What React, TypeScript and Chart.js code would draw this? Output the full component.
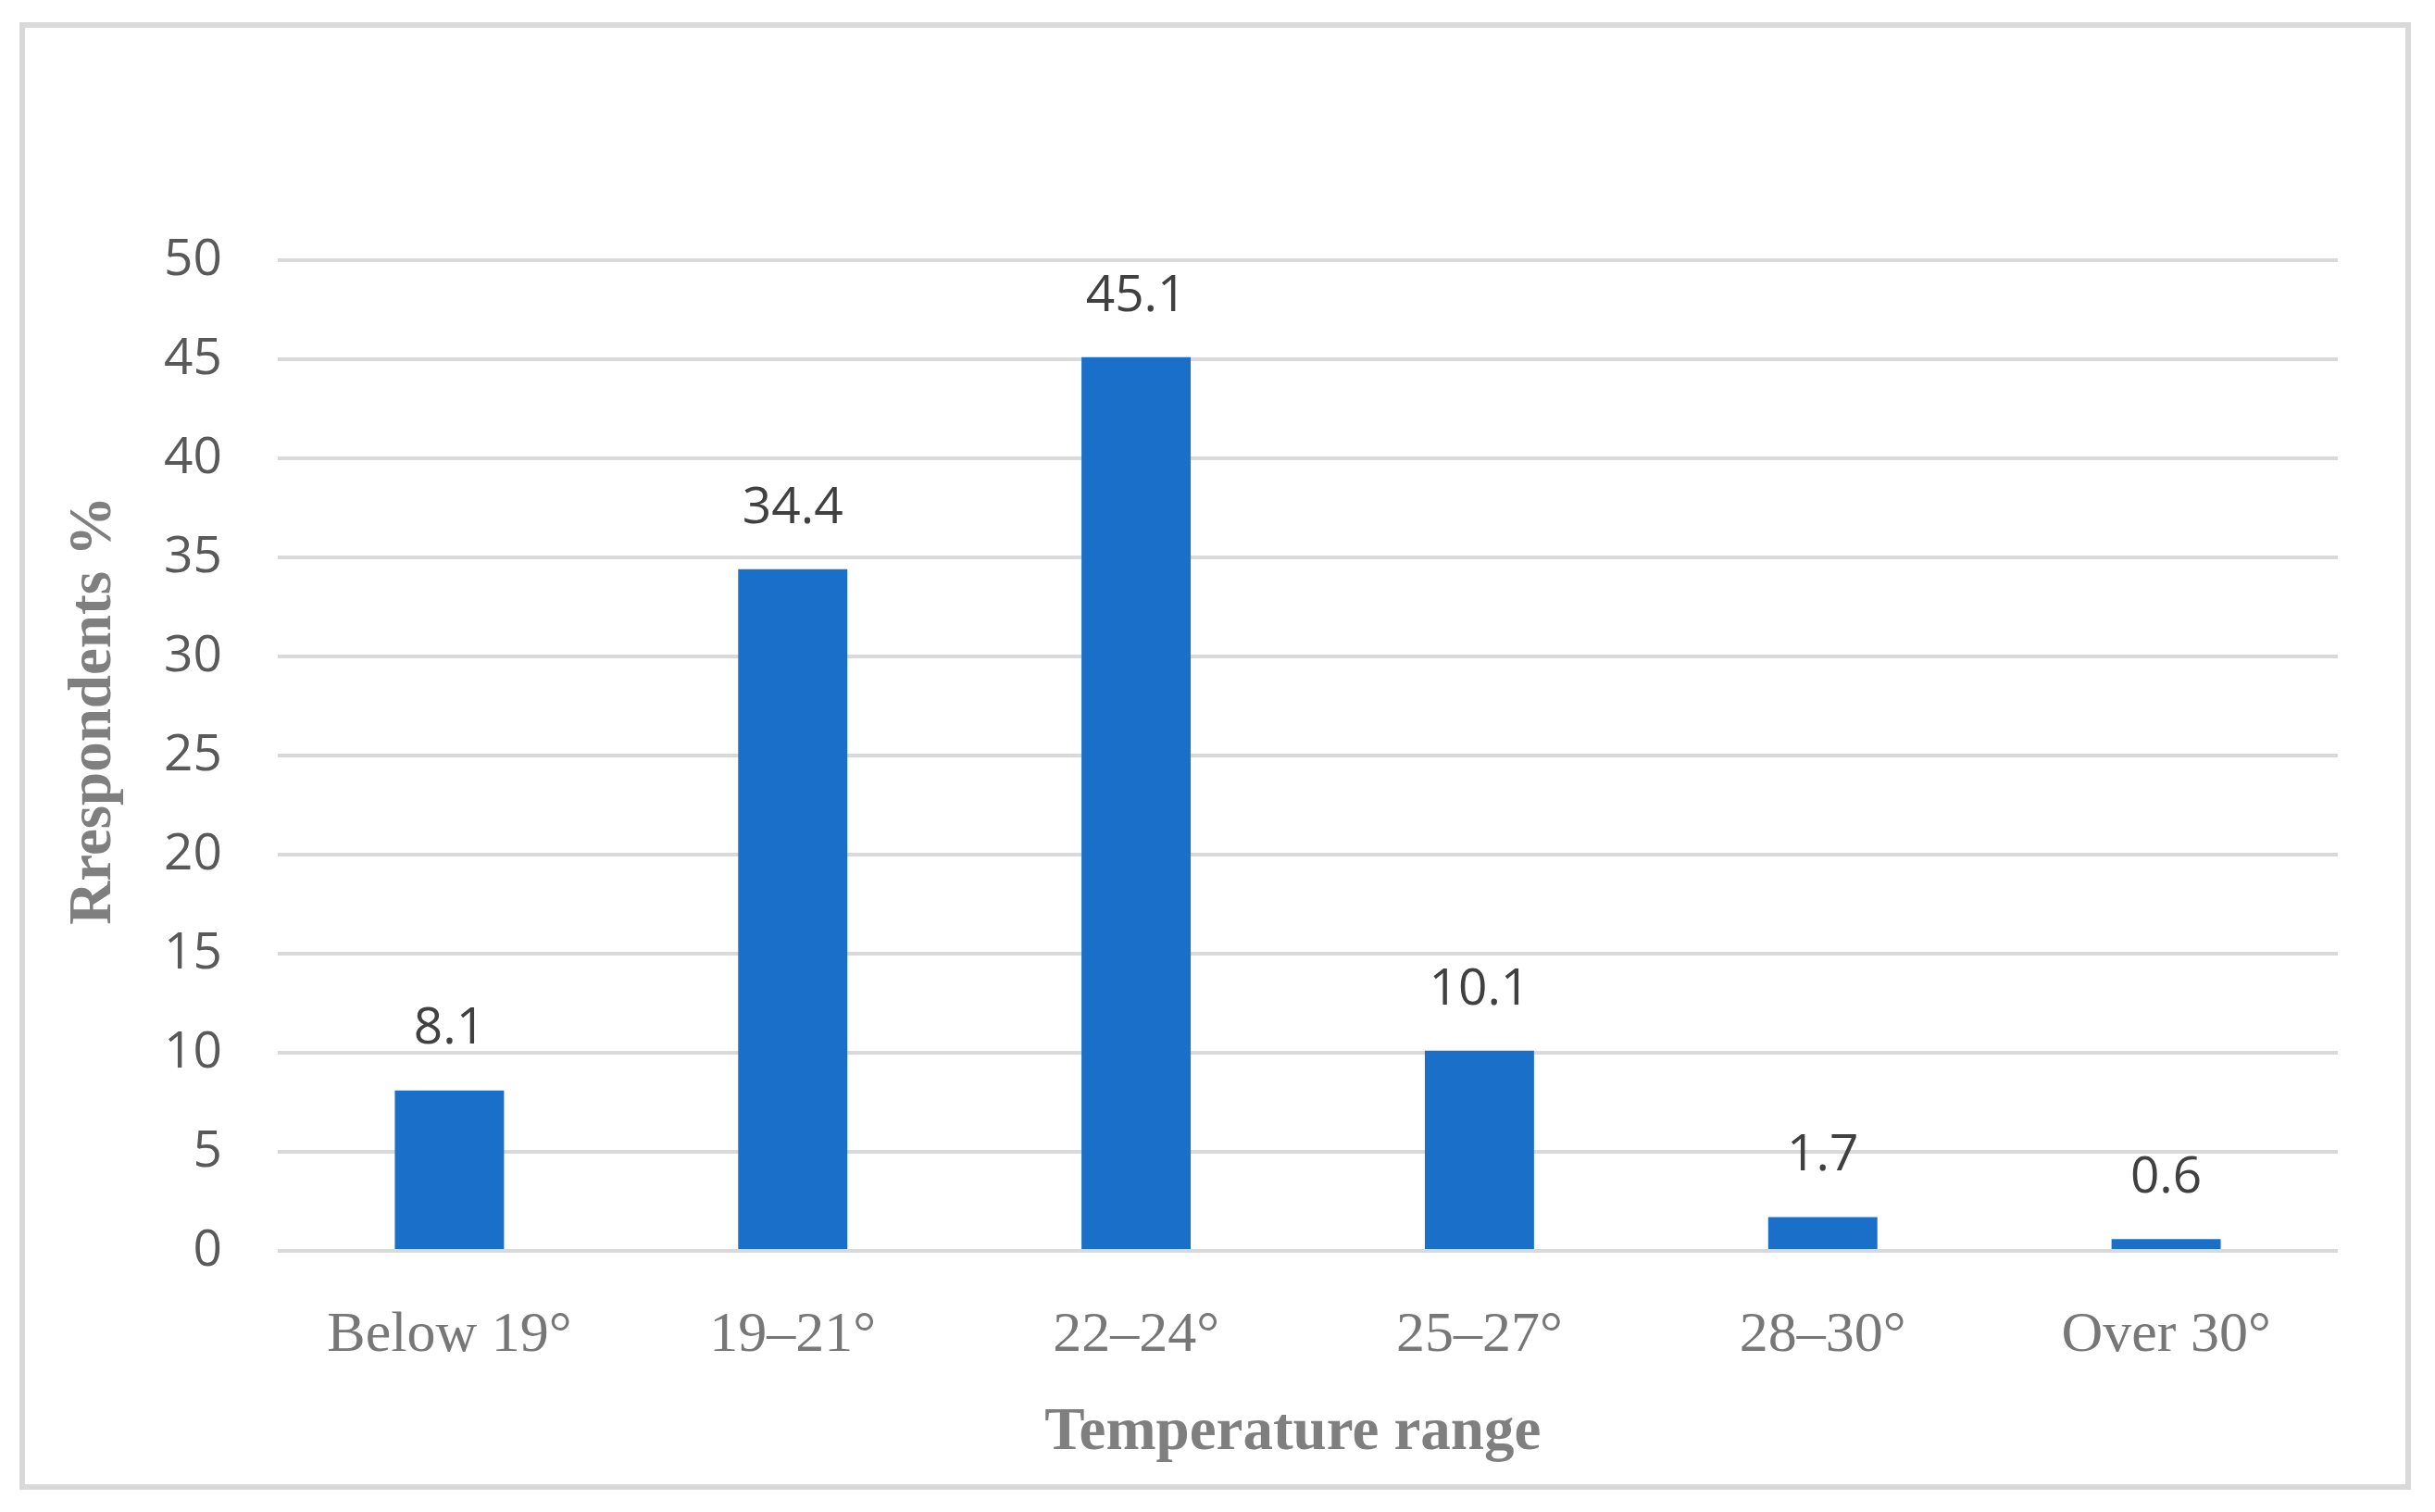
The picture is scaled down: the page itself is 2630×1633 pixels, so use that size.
import { useEffect, useRef } from "react"
import { Chart, registerables } from "chart.js"

Chart.register(...registerables)

const categories = ["Below 19°", "19–21°", "22–24°", "25–27°", "28–30°", "Over 30°"]
const respondents = [8.1, 34.4, 45.1, 10.1, 1.7, 0.6]
const yTicks = [0, 5, 10, 15, 20, 25, 30, 35, 40, 45, 50]

const sansFont = "'Open Sans', 'Noto Sans', sans-serif"
const serifFont = "'Liberation Serif', 'DejaVu Serif', serif"

// values printed above each bar
const barValueLabels = {
  id: "barValueLabels",
  afterDatasetsDraw(chart: Chart) {
    const ctx = chart.ctx
    const meta = chart.getDatasetMeta(0)
    ctx.save()
    ctx.fillStyle = "#404040"
    ctx.font = `55px ${sansFont}`
    ctx.textAlign = "center"
    ctx.textBaseline = "middle"
    meta.data.forEach((bar: any, i: number) => {
      ctx.fillText(String(respondents[i]), bar.x, bar.y - 66)
    })
    ctx.restore()
  },
}

export default function App() {
  const chartRef = useRef<HTMLCanvasElement>(null)
  const chartInstance = useRef<Chart | null>(null)

  useEffect(() => {
    document.body.style.margin = "0"
    if (!chartRef.current) return
    if (chartInstance.current) chartInstance.current.destroy()

    const ctx = chartRef.current.getContext("2d")
    if (!ctx) return

    chartInstance.current = new Chart(ctx, {
      type: "bar",
      data: {
        labels: categories,
        datasets: [
          {
            label: "Respondents %",
            data: respondents,
            backgroundColor: "#1a70c9",
            barPercentage: 0.318,
            categoryPercentage: 1,
          },
        ],
      },
      options: {
        animation: false,
        responsive: false,
        devicePixelRatio: 1,
        layout: { padding: { left: 0, top: 281, right: 105, bottom: 0 } },
        plugins: {
          legend: { display: false },
          tooltip: { enabled: false },
        },
        scales: {
          x: {
            grid: { display: false },
            border: { display: false },
            ticks: {
              color: "#777777",
              font: { family: serifFont, size: 62 },
              padding: 47,
              maxRotation: 0,
            },
            title: {
              display: true,
              // trailing spaces nudge the title a little left, as in the original
              text: "Temperature range  ",
              color: "#7f7f7f",
              font: { family: serifFont, size: 65, weight: "bold" },
              padding: { top: 0, bottom: 46 },
            },
            afterFit: (scale: any) => {
              scale.height = 282
            },
          },
          y: {
            min: 0,
            max: 50,
            afterBuildTicks: (scale: any) => {
              scale.ticks = yTicks.map((v) => ({ value: v }))
            },
            grid: { color: "#d9d9d9", lineWidth: 4, drawTicks: false },
            border: { display: false },
            ticks: {
              color: "#595959",
              font: { family: sansFont, size: 55 },
              padding: 60,
            },
            title: {
              display: true,
              // leading spaces lift the title above the axis centre
              text: "      Rrespondents %",
              color: "#7f7f7f",
              font: { family: serifFont, size: 65, weight: "bold" },
              padding: { top: 63, bottom: 0 },
            },
            afterFit: (scale: any) => {
              scale.width = 300
            },
          },
        },
      },
      plugins: [barValueLabels],
    })

    return () => {
      if (chartInstance.current) {
        chartInstance.current.destroy()
        chartInstance.current = null
      }
    }
  }, [])

  return (
    <div style={{ position: "absolute", left: 0, top: 0, width: 2630, height: 1633, background: "#ffffff" }}>
      <div
        style={{
          position: "absolute",
          left: 21,
          top: 24,
          width: 2583,
          height: 1585,
          border: "6px solid #d9d9d9",
          boxSizing: "border-box",
        }}
      />
      <canvas
        ref={chartRef}
        width={2630}
        height={1633}
        style={{ position: "absolute", left: 0, top: 0, width: 2630, height: 1633 }}
      />
    </div>
  )
}
